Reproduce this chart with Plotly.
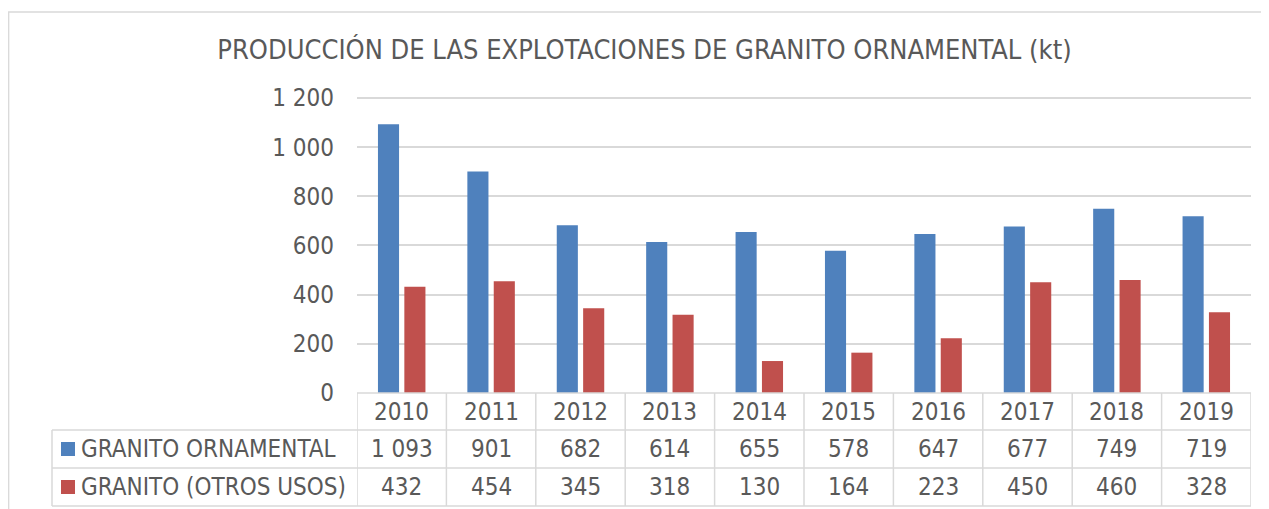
import plotly.graph_objects as go

years = ["2010", "2011", "2012", "2013", "2014", "2015", "2016", "2017", "2018", "2019"]
series_names = ["GRANITO ORNAMENTAL", "GRANITO (OTROS USOS)"]
ornamental = [1093, 901, 682, 614, 655, 578, 647, 677, 749, 719]
otros = [432, 454, 345, 318, 130, 164, 223, 450, 460, 328]
series_values = [ornamental, otros]
colors = ["#4F81BD", "#C0504D"]
y_ticks = [0, 200, 400, 600, 800, 1000, 1200]
title_text = "PRODUCCIÓN DE LAS EXPLOTACIONES DE GRANITO ORNAMENTAL (kt)"

# page has an 8px body margin: reference pixel p maps to figure pixel p - OFF
OFF = 8
FW, FH = 1269 - OFF, 509 - OFF
Y_MAX = 1220
PX_PER_UNIT = (393 - 98) / 1200.0
L, R_EDGE, B_EDGE = 357 - OFF, 1251 - OFF, 393 - OFF
T = round(B_EDGE - Y_MAX * PX_PER_UNIT)
PW, PH = R_EDGE - L, B_EDGE - T
GRID = "#D9D9D9"
TXT = "#595959"
FONT = "DejaVu Sans Condensed"


def fx(x):
    return (x - OFF - L) / PW


def fy(y):
    return (B_EDGE - (y - OFF)) / PH


def fmt(v):
    return f"{v:,}".replace(",", " ")


fig = go.Figure()
for name, vals, c in zip(series_names, series_values, colors):
    fig.add_trace(go.Bar(x=years, y=vals, name=name, marker=dict(color=c, line=dict(width=0))))

shapes = []
annotations = []

# outer frame (left edge as close to the reference as the page margin allows)
shapes.append(dict(type="rect", xref="paper", yref="paper", x0=fx(8.7), x1=fx(1300), y0=fy(540), y1=fy(12),
                   line=dict(color=GRID, width=1.3), fillcolor="rgba(0,0,0,0)", layer="below"))

# table rows
row_tops = [393, 430, 468, 506]
shapes.append(dict(type="line", xref="paper", yref="paper", x0=0, x1=1, y0=fy(393), y1=fy(393),
                   line=dict(color=GRID, width=1.5)))
for yy in row_tops[1:]:
    shapes.append(dict(type="line", xref="paper", yref="paper", x0=fx(52), x1=1, y0=fy(yy), y1=fy(yy),
                       line=dict(color=GRID, width=1.5)))
shapes.append(dict(type="line", xref="paper", yref="paper", x0=fx(52), x1=fx(52), y0=fy(430), y1=fy(506),
                   line=dict(color=GRID, width=1.5)))
for i in range(len(years) + 1):
    shapes.append(dict(type="line", xref="x", yref="paper", x0=i - 0.5, x1=i - 0.5, y0=fy(393), y1=fy(506),
                       line=dict(color=GRID, width=1.5)))

# header row: years
for i, yr in enumerate(years):
    annotations.append(dict(x=i, xref="x", y=fy(412), yref="paper", text=yr, showarrow=False,
                            xanchor="center", yanchor="middle", font=dict(size=24, color=TXT, family=FONT)))

# data rows
row_centers = [449, 487]
for name, vals, c, yc in zip(series_names, series_values, colors, row_centers):
    shapes.append(dict(type="rect", xref="paper", yref="paper", x0=fx(61), x1=fx(75), y0=fy(yc + 7), y1=fy(yc - 7),
                       line=dict(width=0), fillcolor=c))
    annotations.append(dict(x=fx(79), xref="paper", y=fy(yc), yref="paper", text=name, showarrow=False,
                            xanchor="left", yanchor="middle", font=dict(size=24, color=TXT, family=FONT)))
    for i, v in enumerate(vals):
        annotations.append(dict(x=i, xref="x", y=fy(yc), yref="paper", text=fmt(v), showarrow=False,
                                xanchor="center", yanchor="middle", font=dict(size=24, color=TXT, family=FONT)))

fig.update_layout(
    width=FW, height=FH,
    margin=dict(l=L, r=FW - R_EDGE, t=T, b=FH - B_EDGE, pad=0),
    paper_bgcolor="white", plot_bgcolor="white",
    showlegend=False,
    barmode="group", bargap=0.41, bargroupgap=0.2,
    title=dict(text=title_text, x=(644.5 - OFF) / FW, xref="container", xanchor="center",
               y=1 - (50 - OFF) / FH, yref="container", yanchor="middle",
               font=dict(size=27, color=TXT, family=FONT)),
    font=dict(family=FONT, color=TXT, size=24),
    shapes=shapes, annotations=annotations,
)
fig.update_xaxes(type="category", range=[-0.5, len(years) - 0.5], showticklabels=False, showgrid=False,
                 showline=False, zeroline=False, ticks="")
fig.update_yaxes(range=[0, Y_MAX], tickvals=y_ticks, ticktext=[fmt(v) for v in y_ticks],
                 showgrid=True, gridcolor=GRID, gridwidth=1.5, zeroline=False, showline=False,
                 ticks="", ticklabelstandoff=22, tickfont=dict(size=24, color=TXT, family=FONT))

fig.write_html("out.html")
